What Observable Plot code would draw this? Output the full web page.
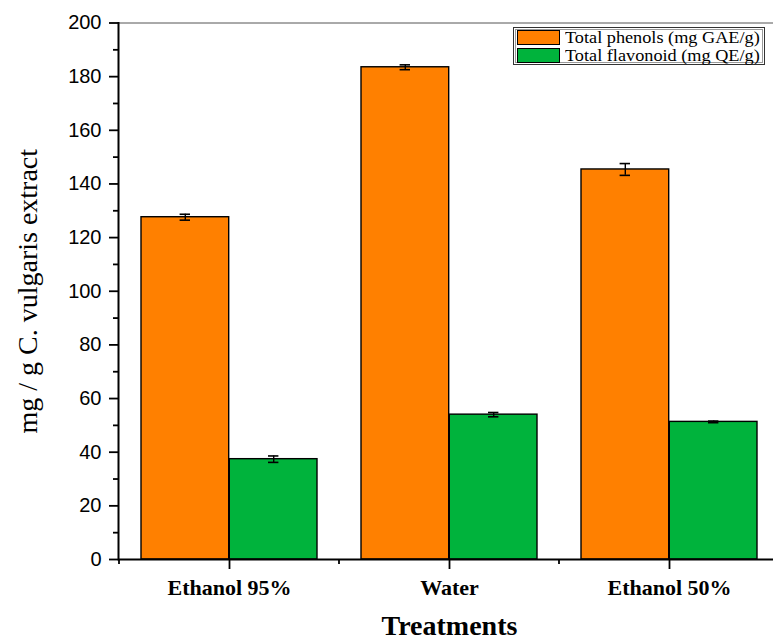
<!DOCTYPE html>
<html>
<head>
<meta charset="utf-8">
<script src="https://cdn.jsdelivr.net/npm/d3@7"></script>
<script src="https://cdn.jsdelivr.net/npm/@observablehq/plot@0.6"></script>
<style>
  html, body { margin: 0; padding: 0; background: #fff; overflow: hidden; }
  #wrap { position: relative; width: 773px; height: 641px; overflow: hidden; }
  #legend { position: absolute; left: 513px; top: 27px; width: 252px; height: 38px; box-sizing: border-box;
    border: 1px solid #333; box-shadow: inset 0 0 0 1px #fff, inset 0 0 0 2px #999; background: #fff;
    font-family: "Liberation Serif", serif; font-size: 16px; color: #000; }
  .row { position: absolute; left: 3px; height: 17px; display: flex; align-items: center; white-space: nowrap; }
  .sw { width: 43px; height: 15px; box-sizing: border-box; border: 1.3px solid #000; margin-right: 5px; flex: none; }
  .lab { display: inline-block; transform: scaleX(1.14); transform-origin: left center; line-height: 17px; }
</style>
</head>
<body>
<div id="wrap"></div>
<script>
// ---- data ----
const treatments = ["Ethanol 95%", "Water", "Ethanol 50%"];
const phenols = [127.6, 183.5, 145.4];
const phenolsErr = [1.1, 0.9, 2.2];
const flavonoids = [37.4, 54.0, 51.3];
const flavonoidsErr = [1.2, 0.8, 0.3];
const seriesNames = ["Total phenols (mg GAE/g)", "Total flavonoid (mg QE/g)"];
const seriesColors = ["#FF8000", "#00B33C"];
const yMajorTicks = [0, 20, 40, 60, 80, 100, 120, 140, 160, 180, 200];
const yMinorTicks = [10, 30, 50, 70, 90, 110, 130, 150, 170, 190];
const yLabel = "mg / g C. vulgaris extract";
const xLabel = "Treatments";

const rowsP = treatments.map((t, i) => ({t, v: phenols[i], e: phenolsErr[i]}));
const rowsF = treatments.map((t, i) => ({t, v: flavonoids[i], e: flavonoidsErr[i]}));

const half = 44.2;
const chart = Plot.plot({
  width: 773,
  height: 641,
  marginLeft: 118,
  marginRight: 0,
  marginTop: 22.5,
  marginBottom: 82,
  style: {fontFamily: "Liberation Sans, sans-serif", background: "#fff", overflow: "hidden"},
  x: {type: "band", domain: treatments, range: [118, 780], padding: 0},
  y: {domain: [0, 200]},
  marks: [
    Plot.barY(rowsP, {x: "t", y: "v", fill: seriesColors[0], stroke: "#000", strokeWidth: 1.4, insetLeft: 22, insetRight: 110.3}),
    Plot.barY(rowsF, {x: "t", y: "v", fill: seriesColors[1], stroke: "#000", strokeWidth: 1.4, insetLeft: 110.3, insetRight: 22}),
    Plot.ruleX(rowsP, {x: "t", y1: d => d.v - d.e, y2: d => d.v + d.e, dx: -half, stroke: "#000", strokeWidth: 1.4}),
    Plot.tickY(rowsP, {x: "t", y: d => d.v - d.e, insetLeft: 60.6, insetRight: 149, stroke: "#000", strokeWidth: 1.6}),
    Plot.tickY(rowsP, {x: "t", y: d => d.v + d.e, insetLeft: 60.6, insetRight: 149, stroke: "#000", strokeWidth: 1.6}),
    Plot.ruleX(rowsF, {x: "t", y1: d => d.v - d.e, y2: d => d.v + d.e, dx: half, stroke: "#000", strokeWidth: 1.4}),
    Plot.tickY(rowsF, {x: "t", y: d => d.v - d.e, insetLeft: 149, insetRight: 60.6, stroke: "#000", strokeWidth: 1.6}),
    Plot.tickY(rowsF, {x: "t", y: d => d.v + d.e, insetLeft: 149, insetRight: 60.6, stroke: "#000", strokeWidth: 1.6}),
    Plot.frame({anchor: "top", stroke: "#555", strokeWidth: 1}),
    Plot.frame({anchor: "left", stroke: "#000", strokeWidth: 2}),
    Plot.ruleY([0], {stroke: "#000", strokeWidth: 2}),
    Plot.axisY({ticks: yMajorTicks, tickSize: 9, tickPadding: 8, fontSize: 20, fontFamily: "Liberation Sans, sans-serif", label: null, stroke: "#000", strokeWidth: 1.8, fill: "#000"}),
    Plot.axisY({ticks: yMinorTicks, tickSize: 5, tickFormat: () => "", label: null, stroke: "#000", strokeWidth: 1.8}),
    Plot.axisX({tickSize: 10, tickPadding: 10, fontSize: 22, fontWeight: "bold", fontFamily: "Liberation Serif, serif", label: null, stroke: "#000", strokeWidth: 1.8, fill: "#000"}),
    Plot.text([yLabel], {frameAnchor: "left", textAnchor: "middle", rotate: -90, dx: -90, fontSize: 28, fontFamily: "Liberation Serif, serif", fill: "#000"}),
    Plot.text([xLabel], {frameAnchor: "bottom", textAnchor: "middle", dx: 3.5, dy: 75, fontSize: 28, fontWeight: "bold", fontFamily: "Liberation Serif, serif", fill: "#000"})
  ]
});

// minor ticks at band boundaries of the x axis, placed with Plot's own x scale
const xs = chart.scale("x");
const bounds = treatments.map(t => xs.apply(t)).concat([xs.apply(treatments[treatments.length - 1]) + xs.step]);
const y0 = chart.scale("y").apply(0);
const g = d3.select(chart).append("g").attr("stroke", "#000").attr("stroke-width", 1.8);
bounds.forEach(b => g.append("line").attr("x1", b).attr("x2", b).attr("y1", y0).attr("y2", y0 + 5));

const wrap = document.getElementById("wrap");
wrap.appendChild(chart);

// legend
const legend = document.createElement("div");
legend.id = "legend";
seriesNames.forEach((name, i) => {
  const row = document.createElement("div");
  row.className = "row";
  row.style.top = (i === 0 ? 1 : 19) + "px";
  const sw = document.createElement("div");
  sw.className = "sw";
  sw.style.background = seriesColors[i];
  row.appendChild(sw);
  const lab = document.createElement("span");
  lab.className = "lab";
  lab.textContent = name;
  row.appendChild(lab);
  legend.appendChild(row);
});
wrap.appendChild(legend);
</script>
</body>
</html>
